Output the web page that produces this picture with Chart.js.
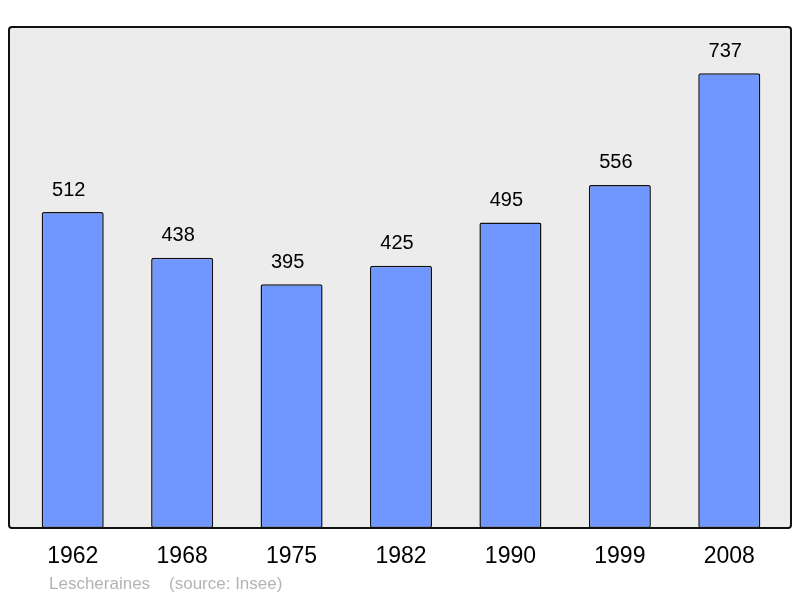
<!DOCTYPE html>
<html>
<head>
<meta charset="utf-8">
<script src="https://cdn.jsdelivr.net/npm/chart.js@4"></script>
<style>
  body { margin: 0; background: #fff; }
  #wrap { width: 800px; height: 598px; }
</style>
</head>
<body>
<div id="wrap"><canvas id="popChart"></canvas></div>
<script>
// Data
const years = ['1962', '1968', '1975', '1982', '1990', '1999', '2008'];
const population = [512, 438, 395, 425, 495, 556, 737];
const footerText = 'Lescheraines    (source: Insee)';

// grey frame behind the bars, value labels and footer on top
const framePlugin = {
  id: 'frame',
  beforeDatasetsDraw(chart) {
    const { ctx, chartArea: a } = chart;
    ctx.save();
    ctx.beginPath();
    ctx.roundRect(a.left - 9, a.top, a.right - a.left + 16, a.bottom - a.top, 3);
    ctx.fillStyle = '#ececec';
    ctx.fill();
    ctx.lineWidth = 2;
    ctx.strokeStyle = '#111';
    ctx.stroke();
    ctx.restore();
  },
  afterDatasetsDraw(chart) {
    const { ctx } = chart;
    const meta = chart.getDatasetMeta(0);
    ctx.save();
    ctx.font = '20px "Liberation Sans", Arial, sans-serif';
    ctx.fillStyle = '#000';
    ctx.textAlign = 'center';
    ctx.textBaseline = 'middle';
    meta.data.forEach((bar, i) => {
      ctx.fillText(population[i], bar.x - 4, bar.y - 22);
    });
    ctx.font = '17px "Liberation Sans", Arial, sans-serif';
    ctx.fillStyle = '#b4b4b4';
    ctx.textAlign = 'left';
    ctx.fillText(footerText, 49, 584);
    ctx.restore();
  }
};

const ctx = document.getElementById('popChart').getContext('2d');
new Chart(ctx, {
  type: 'bar',
  data: {
    labels: years,
    datasets: [{
      data: population,
      backgroundColor: '#7096ff',
      borderColor: '#111',
      borderWidth: 1.5,
      borderRadius: 2,
      borderSkipped: false,
      barPercentage: 0.567,
      categoryPercentage: 1
    }]
  },
  options: {
    responsive: true,
    maintainAspectRatio: false,
    animation: false,
    layout: { padding: { left: 18, right: 16, top: 27, bottom: 28 } },
    plugins: {
      legend: { display: false },
      tooltip: { enabled: false }
    },
    scales: {
      x: {
        border: { display: false },
        grid: { display: false, drawTicks: false },
        afterFit(scale) { scale.height = 42; },
        ticks: {
          padding: 15,
          color: '#000',
          font: { size: 23, family: '"Liberation Sans", Arial, sans-serif' }
        }
      },
      y: {
        display: false,
        min: 0,
        max: 812
      }
    }
  },
  plugins: [framePlugin]
});
</script>
</body>
</html>
